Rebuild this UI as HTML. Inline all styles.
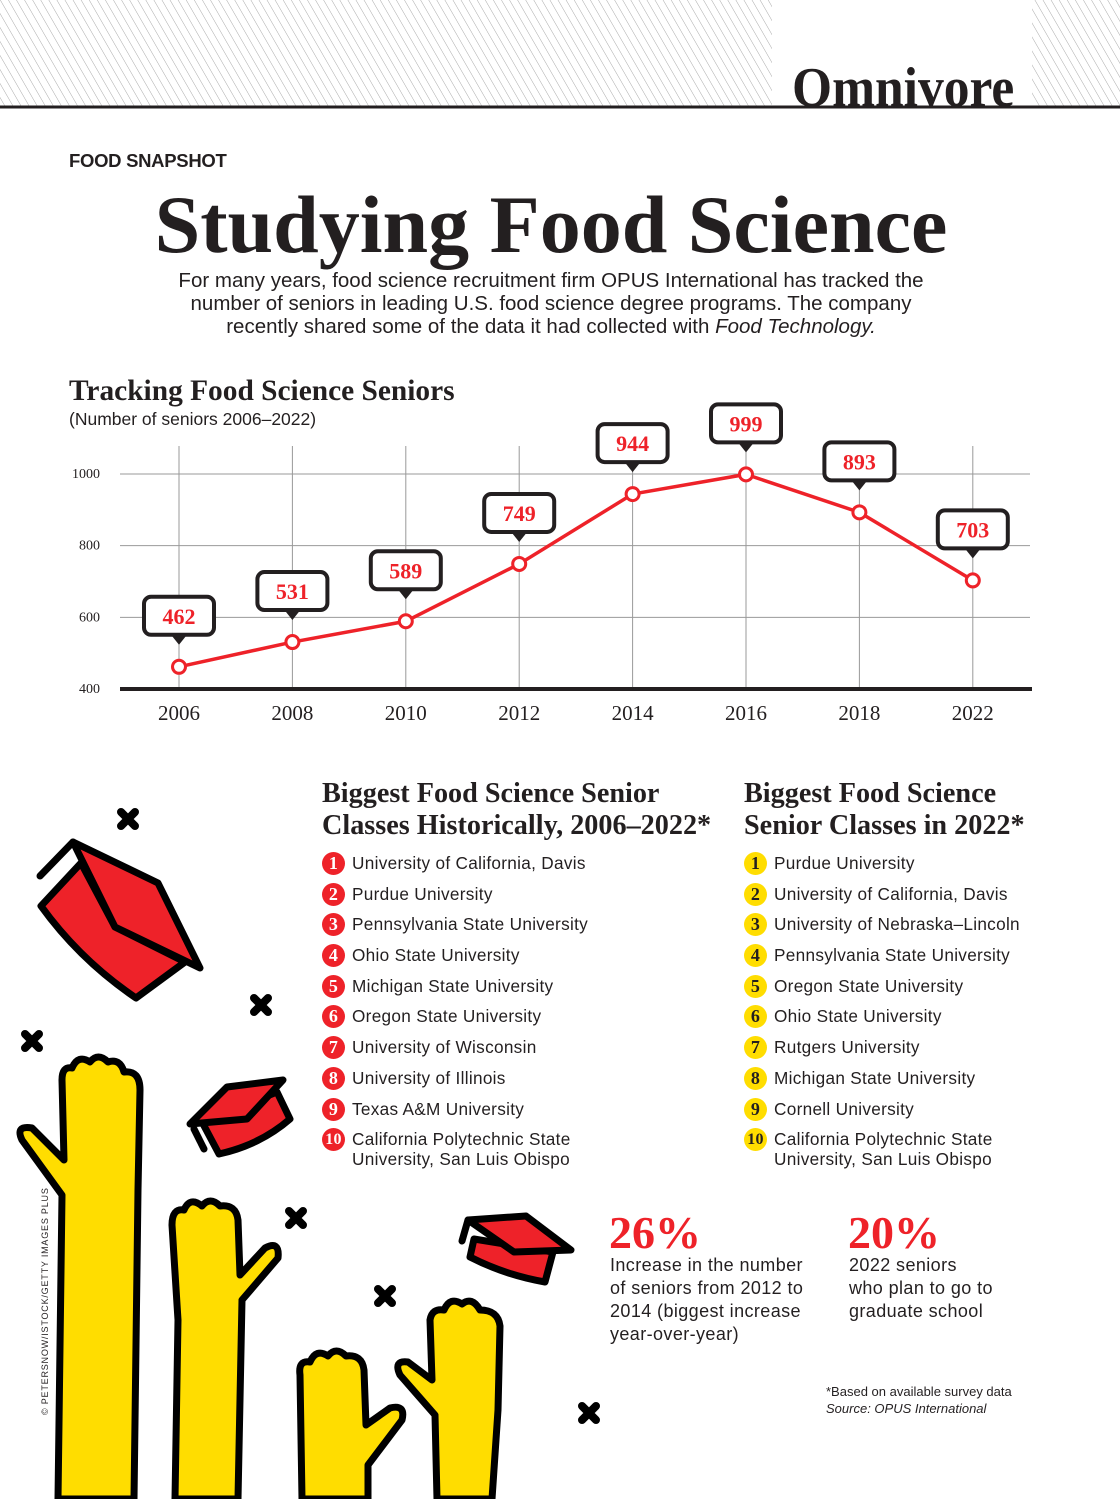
<!DOCTYPE html>
<html><head><meta charset="utf-8">
<style>
body{margin:0;width:1120px;height:1499px;background:#fff;position:relative;overflow:hidden;font-family:"Liberation Sans",sans-serif;color:#231f20}
.abs{position:absolute}
.serif{font-family:"Liberation Serif",serif}
.list{position:absolute;font-size:17.2px;letter-spacing:0.3px}
.list .row{position:relative;height:30.7px;padding-left:30px;line-height:20px}
.num{position:absolute;left:0;top:-1px;width:23px;height:23px;border-radius:50%;font-family:"Liberation Serif",serif;font-weight:bold;font-size:18px;text-align:center;line-height:23px}
.red .num{background:#ee2229;color:#fff}
.yel .num{background:#ffdd00;color:#231f20}
h3{margin:0;font-family:"Liberation Serif",serif;font-size:28.2px;line-height:32px;font-weight:bold;position:absolute;white-space:nowrap}
</style></head><body>
<svg class="abs" style="left:0;top:0" width="1120" height="110">
<defs><pattern id="h" width="7" height="7" patternUnits="userSpaceOnUse" patternTransform="rotate(-30)"><line x1="0" y1="0" x2="0" y2="7" stroke="#aaa" stroke-width="1"/></pattern></defs>
<rect x="0" y="0" width="772" height="106" fill="url(#h)"/>
<rect x="1032" y="0" width="88" height="106" fill="url(#h)"/>
<line x1="0" y1="107" x2="1120" y2="107" stroke="#231f20" stroke-width="3"/>
</svg>
<div class="abs serif" style="left:792px;top:60px;font-size:56px;font-weight:bold;line-height:56px;transform:scaleX(0.92);transform-origin:left">Omnivore</div>
<div class="abs" style="left:69px;top:150px;font-size:18.5px;font-weight:bold;letter-spacing:-0.3px">FOOD SNAPSHOT</div>
<div class="abs serif" style="left:0;width:1102px;text-align:center;top:182px;font-size:82px;font-weight:bold;line-height:86px">Studying Food Science</div>
<div class="abs" style="left:0;width:1102px;text-align:center;top:269px;font-size:20.5px;line-height:23px">For many years, food science recruitment firm OPUS International has tracked the<br>number of seniors in leading U.S. food science degree programs. The company<br>recently shared some of the data it had collected with <i>Food Technology.</i></div>
<div class="abs serif" style="left:69px;top:375px;font-size:29.4px;font-weight:bold">Tracking Food Science Seniors</div>
<div class="abs" style="left:69px;top:409px;font-size:17.5px">(Number of seniors 2006–2022)</div>
<svg id="chart" class="abs" style="left:0;top:390px" width="1120" height="350"></svg>
<script>
const years=["2006","2008","2010","2012","2014","2016","2018","2022"];
const seniors=[462,531,589,749,944,999,893,703];
const yTicks=[400,600,800,1000];
const NS="http://www.w3.org/2000/svg";
const svg=document.getElementById('chart');
const OY=390;
function y(v){return 689-(v-400)*(215/600)-OY;}
function x(i){return 179+i*113.4;}
function mk(t,a,p){const e=document.createElementNS(NS,t);for(const k in a)e.setAttribute(k,a[k]);(p||svg).appendChild(e);return e;}
yTicks.forEach(v=>{
 if(v>400){const l=mk('line',{x1:120,x2:1030,y1:y(v),y2:y(v),stroke:'#999','stroke-width':1});
 
 }
 const t=mk('text',{x:100,y:y(v)+4,'text-anchor':'end','font-family':'Liberation Serif','font-size':14,fill:'#231f20'});t.textContent=v;
 
 
});
years.forEach((yr,i)=>{
 const l=mk('line',{x1:x(i),x2:x(i),y1:446-OY,y2:689-OY,stroke:'#999','stroke-width':1});
 
 
 const t=mk('text',{x:x(i),y:720-OY,'text-anchor':'middle','font-family':'Liberation Serif','font-size':21,fill:'#231f20'});t.textContent=yr;
 
 
});
const ax=mk('line',{x1:120,x2:1032,y1:689-OY,y2:689-OY,stroke:'#231f20','stroke-width':4});


const pl=mk('polyline',{points:seniors.map((v,i)=>x(i)+','+y(v)).join(' '),fill:'none',stroke:'#ee2229','stroke-width':3.5});


seniors.forEach((v,i)=>{
 const c=mk('circle',{cx:x(i),cy:y(v),r:6.5,fill:'#fff',stroke:'#ee2229','stroke-width':3});
 
 
 const g=mk('g',{});
 
 
 const by=y(v)-70, cx=x(i);
 mk('rect',{x:cx-35,y:by,width:70,height:38,rx:7,fill:'#fff',stroke:'#231f20','stroke-width':4},g);
 mk('polygon',{points:`${cx-8},${by+38} ${cx+8},${by+38} ${cx},${by+48}`,fill:'#231f20'},g);
 const t=mk('text',{x:cx,y:by+27,'text-anchor':'middle','font-family':'Liberation Serif','font-weight':'bold','font-size':22,fill:'#ee2229'},g);t.textContent=v;
});
</script>
<h3 style="left:322px;top:778px">Biggest Food Science Senior<br>Classes Historically, 2006–2022*</h3>
<div class="list red" style="left:322px;top:853px">
<div class="row"><span class="num">1</span>University of California, Davis</div>
<div class="row"><span class="num">2</span>Purdue University</div>
<div class="row"><span class="num">3</span>Pennsylvania State University</div>
<div class="row"><span class="num">4</span>Ohio State University</div>
<div class="row"><span class="num">5</span>Michigan State University</div>
<div class="row"><span class="num">6</span>Oregon State University</div>
<div class="row"><span class="num">7</span>University of Wisconsin</div>
<div class="row"><span class="num">8</span>University of Illinois</div>
<div class="row"><span class="num">9</span>Texas A&amp;M University</div>
<div class="row"><span class="num" style="font-size:16px">10</span>California Polytechnic State<br>University, San Luis Obispo</div>
</div>
<h3 style="left:744px;top:778px">Biggest Food Science<br>Senior Classes in 2022*</h3>
<div class="list yel" style="left:744px;top:853px">
<div class="row"><span class="num">1</span>Purdue University</div>
<div class="row"><span class="num">2</span>University of California, Davis</div>
<div class="row"><span class="num">3</span>University of Nebraska–Lincoln</div>
<div class="row"><span class="num">4</span>Pennsylvania State University</div>
<div class="row"><span class="num">5</span>Oregon State University</div>
<div class="row"><span class="num">6</span>Ohio State University</div>
<div class="row"><span class="num">7</span>Rutgers University</div>
<div class="row"><span class="num">8</span>Michigan State University</div>
<div class="row"><span class="num">9</span>Cornell University</div>
<div class="row"><span class="num" style="font-size:16px">10</span>California Polytechnic State<br>University, San Luis Obispo</div>
</div>
<div class="abs serif" style="left:609px;top:1206px;font-size:46px;font-weight:bold;color:#ee2229">26%</div>
<div class="abs" style="left:610px;top:1254px;font-size:18px;line-height:23px;letter-spacing:0.4px">Increase in the number<br>of seniors from 2012 to<br>2014 (biggest increase<br>year-over-year)</div>
<div class="abs serif" style="left:848px;top:1206px;font-size:46px;font-weight:bold;color:#ee2229">20%</div>
<div class="abs" style="left:849px;top:1254px;font-size:18px;line-height:23px;letter-spacing:0.4px">2022 seniors<br>who plan to go to<br>graduate school</div>
<div class="abs" style="left:826px;top:1383px;font-size:13px;line-height:17px">*Based on available survey data<br><i>Source: OPUS International</i></div>
<div class="abs" style="left:40px;top:1415px;font-size:9px;letter-spacing:0.8px;transform:rotate(-90deg);transform-origin:left top;white-space:nowrap">© PETERSNOW/ISTOCK/GETTY IMAGES PLUS</div>
<svg class="abs" style="left:0;top:0" width="620" height="1499" stroke="#000" stroke-width="7" stroke-linejoin="round" stroke-linecap="round">
<g stroke-width="8">
<path d="M121,812 L135,826 M135,812 L121,826"/>
<path d="M254,998 L268,1012 M268,998 L254,1012"/>
<path d="M25,1034 L39,1048 M39,1034 L25,1048"/>
<path d="M289,1211 L303,1225 M303,1211 L289,1225"/>
<path d="M378,1289 L392,1303 M392,1289 L378,1303"/>
<path d="M582,1406 L596,1420 M596,1406 L582,1420"/>
</g>
<g>
<path d="M41,906 L81,863 L115,927 L185,962 L136,998 Q80,960 41,906 Z" fill="#ee2229"/>
<path d="M73,842 L158,883 L200,968 L115,927 Z" fill="#ee2229"/>
<path d="M40,876 L73,842" fill="none"/>
</g>
<g>
<path d="M202,1122 L219,1154 Q260,1145 290,1119 L277,1092 Z" fill="#ee2229"/>
<path d="M190,1124 L227,1087 L283,1080 L247,1119 Z" fill="#ee2229"/>
<path d="M194,1129 L204,1149" fill="none"/>
</g>
<g>
<path d="M474,1239 L470,1257 Q505,1275 545,1282 L553,1252 Z" fill="#ee2229"/>
<path d="M468,1220 L526,1216 L571,1250 L514,1252 Z" fill="#ee2229"/>
<path d="M462,1241 L468,1220" fill="none"/>
</g>
<g fill="#ffdd00">
<path d="M58,1499 L62,1195 L22,1140 Q15,1125 32,1128 L64,1160 L62,1080 Q62,1066 72,1068 Q78,1054 90,1062 Q98,1052 108,1062 Q120,1058 124,1072 Q140,1070 140,1090 L138,1190 L134,1499 Z"/>
<path d="M175,1499 L178,1320 L172,1225 Q172,1208 184,1210 Q190,1196 202,1206 Q210,1196 220,1206 Q236,1204 238,1220 L240,1275 L265,1248 Q280,1240 278,1258 L242,1300 L238,1499 Z"/>
<path d="M302,1499 L300,1375 Q298,1360 310,1362 Q316,1348 328,1356 Q336,1346 346,1356 Q362,1354 364,1370 L366,1425 L390,1408 Q406,1404 402,1420 L368,1465 L368,1499 Z"/>
<path d="M437,1499 L435,1415 L400,1375 Q393,1360 408,1362 L432,1380 L430,1320 Q432,1308 444,1310 Q450,1296 462,1304 Q472,1296 480,1310 Q498,1310 500,1326 L498,1410 L492,1499 Z"/>
</g>
</svg>
</body></html>
